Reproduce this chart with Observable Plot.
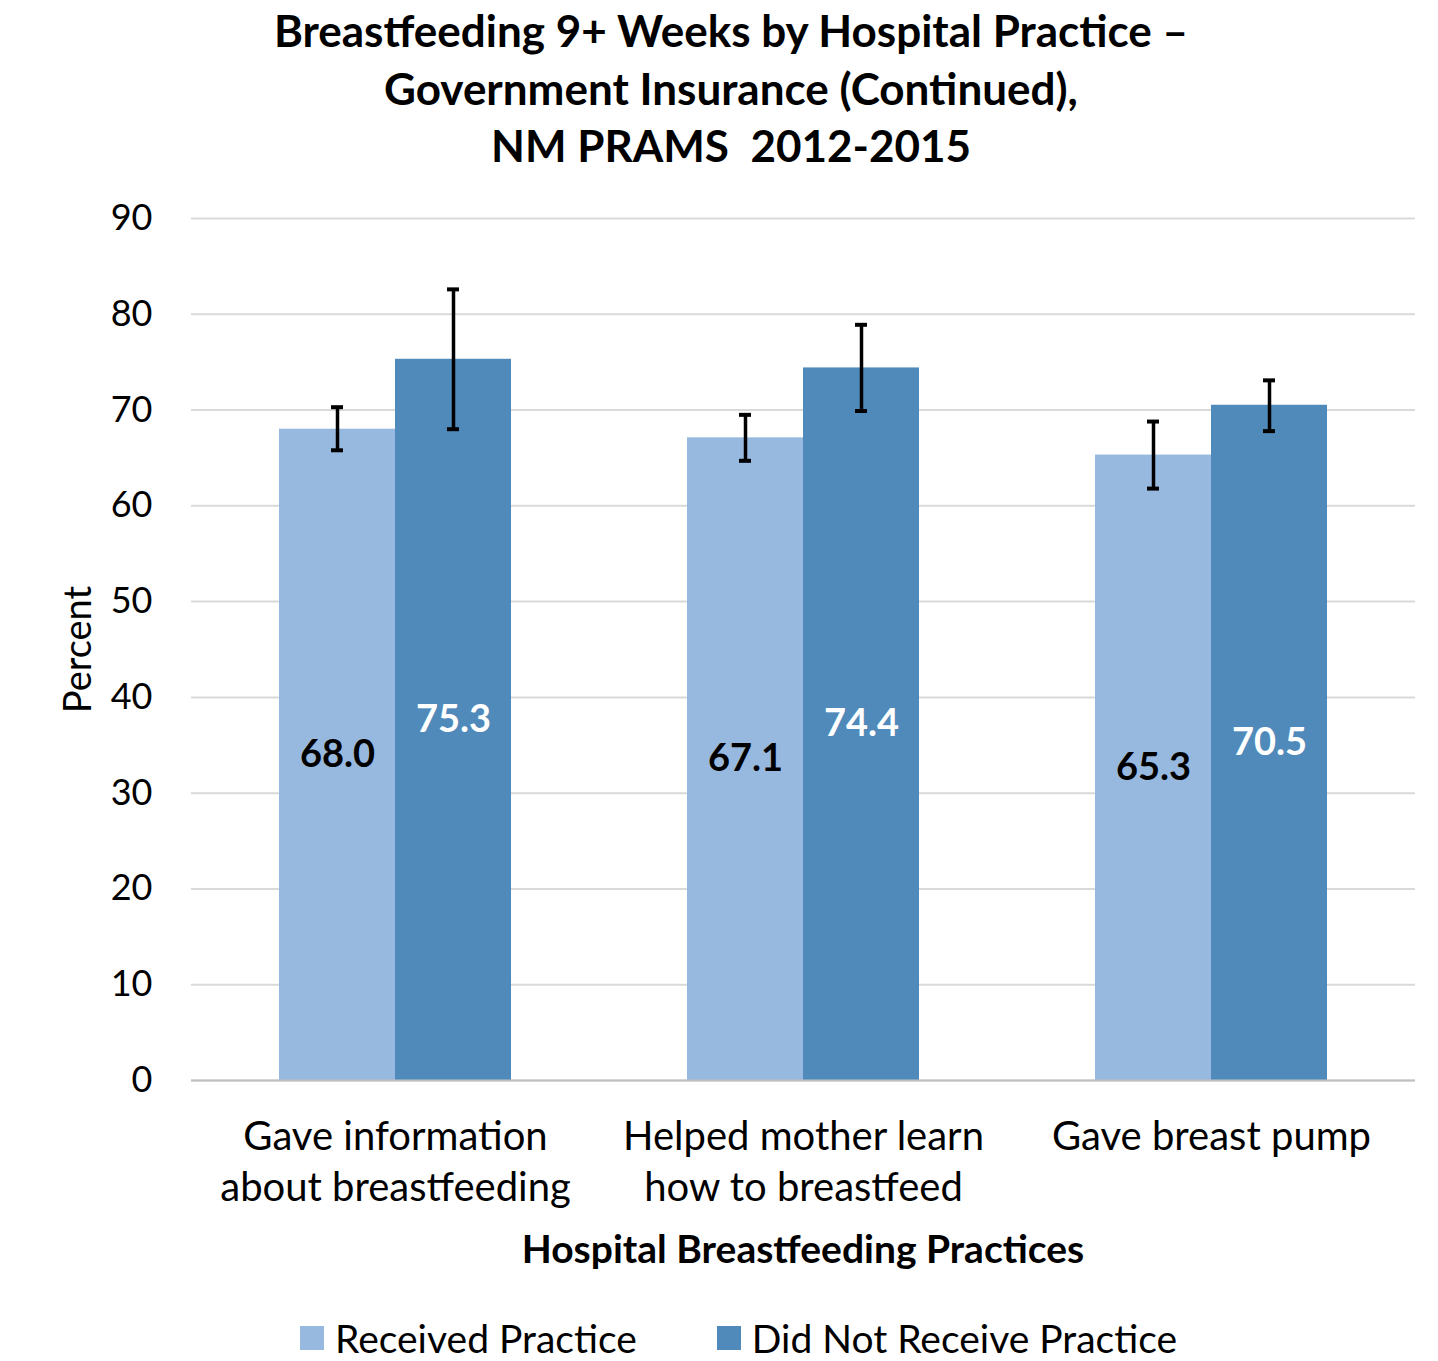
<!DOCTYPE html>
<html>
<head>
<meta charset="utf-8">
<script src="https://cdn.jsdelivr.net/npm/d3@7"></script>
<script src="https://cdn.jsdelivr.net/npm/@observablehq/plot@0.6"></script>
<style>
  html, body { margin: 0; padding: 0; background: #fff; }
  body { width: 1438px; height: 1361px; position: relative; overflow: hidden; font-family: Lato, "Open Sans", sans-serif; }
  #title { position: absolute; left: 0; top: 2px; width: 1462px; text-align: center; font-weight: bold; font-size: 44px; line-height: 57.5px; color: #000; }
  #chart { position: absolute; left: 0; top: 180px; }
  #xtitle { position: absolute; left: 0; width: 1606px; text-align: center; top: 1226px; font-weight: bold; font-size: 39px; line-height: 44px; color: #000; }
  #legend { position: absolute; top: 1316px; left: 300px; font-size: 39px; line-height: 44px; color: #000; display: flex; align-items: center; }
  .sw { display: inline-block; width: 24px; height: 24px; margin-right: 11px; }
  .item { display: flex; align-items: center; }
</style>
</head>
<body>
<div id="title">Breastfeeding 9+ Weeks by Hospital Practice –<br>Government Insurance (Continued),<br>NM PRAMS&nbsp; 2012-2015</div>
<div id="chart"></div>
<div id="xtitle">Hospital Breastfeeding Practices</div>
<div id="legend"></div>
<script>
const categories = ["Gave information about breastfeeding", "Helped mother learn how to breastfeed", "Gave breast pump"];
const categoryLabels = ["Gave information\nabout breastfeeding", "Helped mother learn\nhow to breastfeed", "Gave breast pump"];
const seriesNames = ["Received Practice", "Did Not Receive Practice"];
const seriesColors = ["#98b9df", "#4f8abb"];
const received = [68.0, 67.1, 65.3];
const receivedLow = [65.8, 64.7, 61.8];
const receivedHigh = [70.3, 69.5, 68.8];
const notReceived = [75.3, 74.4, 70.5];
const notReceivedLow = [68.0, 69.9, 67.8];
const notReceivedHigh = [82.6, 78.9, 73.1];
const yTicks = [0, 10, 20, 30, 40, 50, 60, 70, 80, 90];

const data = [];
categories.forEach((c, i) => {
  data.push({cat: c, series: seriesNames[0], value: received[i], lo: receivedLow[i], hi: receivedHigh[i]});
  data.push({cat: c, series: seriesNames[1], value: notReceived[i], lo: notReceivedLow[i], hi: notReceivedHigh[i]});
});
const labelMap = new Map(categories.map((c, i) => [c, categoryLabels[i]]));

const plot = Plot.plot({
  width: 1438,
  height: 1046,
  marginTop: 38,
  marginBottom: 146,
  marginLeft: 191,
  marginRight: 23,
  style: { fontFamily: "Lato, 'Open Sans', sans-serif", color: "#000", background: "#fff" },
  fx: { domain: categories, padding: 0, label: null },
  x: { domain: seriesNames, paddingInner: 0, paddingOuter: 0.755, axis: null },
  y: { domain: [0, 90], label: null },
  color: { domain: seriesNames, range: seriesColors },
  marks: [
    Plot.gridY(yTicks, { stroke: "#d9d9d9", strokeOpacity: 1, strokeWidth: 2 }),
    Plot.axisY({ ticks: yTicks, tickSize: 0, tickPadding: 39, fontSize: 36, label: null }),
    Plot.axisY({ ticks: [], tickSize: 0, fontSize: 38, label: "Percent", labelAnchor: "center", labelArrow: "none", labelOffset: 127 }),
    Plot.axisFx({ anchor: "bottom", tickSize: 0, tickPadding: 33, fontSize: 40, lineHeight: 1.275, tickFormat: d => labelMap.get(d), label: null }),
    Plot.barY(data, { fx: "cat", x: "series", y: "value", fill: "series" }),
    Plot.ruleY([0], { stroke: "#bfbfbf", strokeWidth: 2 }),
    Plot.ruleX(data, { fx: "cat", x: "series", y1: "lo", y2: "hi", stroke: "#000", strokeWidth: 3.5 }),
    Plot.tickY(data, { fx: "cat", x: "series", y: "lo", stroke: "#000", strokeWidth: 4, insetLeft: 52, insetRight: 52 }),
    Plot.tickY(data, { fx: "cat", x: "series", y: "hi", stroke: "#000", strokeWidth: 4, insetLeft: 52, insetRight: 52 }),
    Plot.text(data, { fx: "cat", x: "series", y: d => d.value / 2, text: d => d.value.toFixed(1),
      fill: d => d.series === seriesNames[0] ? "#000" : "#fff", fontSize: 38, fontWeight: "bold" })
  ]
});
document.getElementById("chart").appendChild(plot);

const legend = document.getElementById("legend");
seriesNames.forEach((s, i) => {
  const item = document.createElement("div");
  item.className = "item";
  if (i > 0) item.style.marginLeft = "80px";
  const sw = document.createElement("span");
  sw.className = "sw";
  sw.style.background = seriesColors[i];
  item.appendChild(sw);
  item.appendChild(document.createTextNode(s));
  legend.appendChild(item);
});
</script>
</body>
</html>
